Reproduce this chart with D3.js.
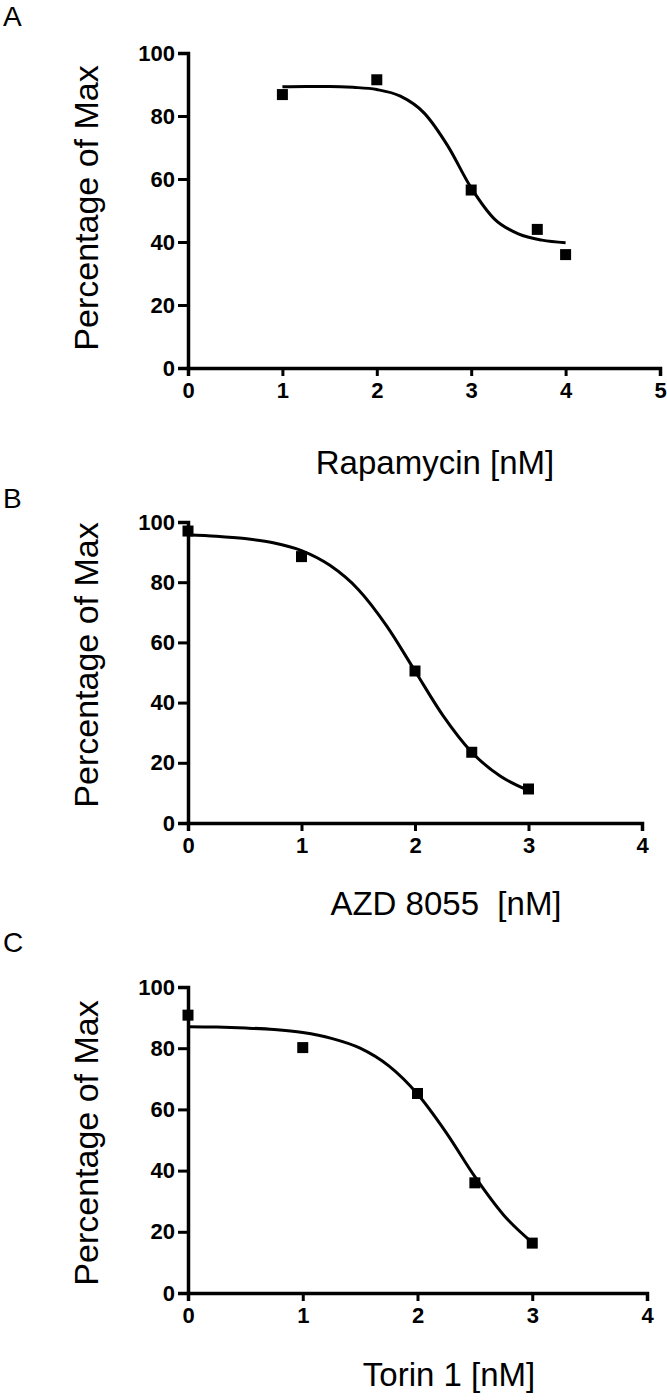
<!DOCTYPE html>
<html>
<head>
<meta charset="utf-8">
<script src="https://cdn.jsdelivr.net/npm/d3@7"></script>
<style>
  body { margin: 0; background: #fff; }
  svg { display: block; }
  text { font-family: "Liberation Sans", Arial, sans-serif; fill: #000; }
  .tick text { font-weight: bold; font-size: 22px; }
</style>
</head>
<body>
<div id="chart"></div>
<script>
const width = 667;
const height = 1400;

// panel A - rapamycin
const rapaX = [1, 2, 3, 3.7, 4];
const rapaY = [86.8, 91.5, 56.5, 44, 36];
const rapaFitX = [1, 1.25, 1.5, 1.75, 2, 2.25, 2.5, 2.75, 3, 3.25, 3.5, 3.75, 4];
const rapaFitY = [89.3, 89.4, 89.4, 89.1, 88.4, 86.3, 81, 70.6, 57.2, 47.2, 42.6, 40.6, 39.8];

// panel B - AZD 8055
const azdX = [0, 1, 2, 2.5, 3];
const azdY = [97, 88.5, 50.5, 23.5, 11.3];
const azdFitX = [0, 0.25, 0.5, 0.75, 1, 1.25, 1.5, 1.75, 2, 2.25, 2.5, 2.75, 3];
const azdFitY = [95.8, 95.3, 94.5, 93.1, 90.5, 85.6, 77.6, 65.5, 50.5, 35.5, 23.5, 15.6, 10.8];

// panel C - Torin 1
const torinX = [0, 1, 2, 2.5, 3];
const torinY = [90.8, 80.2, 65.2, 36, 16.3];
const torinFitX = [0, 0.25, 0.5, 0.75, 1, 1.25, 1.5, 1.75, 2, 2.25, 2.5, 2.75, 3];
const torinFitY = [87, 86.9, 86.6, 86.1, 85.1, 83.2, 80, 74.2, 65, 52.4, 38, 25.5, 16.5];

const yTicks = [0, 20, 40, 60, 80, 100];
const panelLetters = ['A', 'B', 'C'];
const xTitles = ['Rapamycin [nM]', 'AZD 8055  [nM]', 'Torin 1 [nM]'];
const yTitle = 'Percentage of Max';

const svg = d3
  .select('#chart')
  .append('svg')
  .attr('width', width)
  .attr('height', height);

const panels = [
  { letter: 0, xs: rapaX, ys: rapaY, fx: rapaFitX, fy: rapaFitY, xMax: 5,
    xRange: [188, 660], yRange: [368, 53], letterY: 26, titleX: 435, titleY: 474, yTitleY: 208 },
  { letter: 1, xs: azdX, ys: azdY, fx: azdFitX, fy: azdFitY, xMax: 4,
    xRange: [188, 642], yRange: [823, 522], letterY: 508, titleX: 446, titleY: 915, yTitleY: 665 },
  { letter: 2, xs: torinX, ys: torinY, fx: torinFitX, fy: torinFitY, xMax: 4,
    xRange: [188, 647], yRange: [1293, 987], letterY: 952, titleX: 449, titleY: 1386, yTitleY: 1143 },
];

panels.forEach(drawPanel);

function drawPanel(p) {
  const x = d3.scaleLinear().domain([0, p.xMax]).range(p.xRange);
  const y = d3.scaleLinear().domain([0, 100]).range(p.yRange);
  const g = svg.append('g');

  g.append('text')
    .attr('x', 3)
    .attr('y', p.letterY)
    .attr('font-size', 28)
    .text(panelLetters[p.letter]);

  // axes
  const xAxis = g
    .append('g')
    .attr('transform', `translate(0,${p.yRange[0]})`)
    .call(
      d3.axisBottom(x)
        .ticks(p.xMax)
        .tickSizeOuter(0)
        .tickSize(8)
        .tickPadding(6)
        .tickFormat(d3.format('d'))
    );
  const yAxis = g
    .append('g')
    .attr('transform', `translate(${p.xRange[0]},0)`)
    .call(
      d3.axisLeft(y)
        .tickValues(yTicks)
        .tickSizeOuter(0)
        .tickSize(10)
        .tickPadding(3)
    );
  [xAxis, yAxis].forEach((a) => {
    a.select('.domain').attr('stroke', '#000').attr('stroke-width', 3.5);
    a.selectAll('.tick line').attr('stroke', '#000').attr('stroke-width', 3);
  });

  // fitted curve
  const line = d3
    .line()
    .x((d, i) => x(p.fx[i]))
    .y((d) => y(d))
    .curve(d3.curveMonotoneX);
  g.append('path')
    .datum(p.fy)
    .attr('d', line)
    .attr('fill', 'none')
    .attr('stroke', '#000')
    .attr('stroke-width', 3);

  // data points
  const s = 11;
  g.selectAll('rect.pt')
    .data(p.ys)
    .join('rect')
    .attr('class', 'pt')
    .attr('x', (d, i) => x(p.xs[i]) - s / 2)
    .attr('y', (d) => y(d) - s / 2)
    .attr('width', s)
    .attr('height', s)
    .attr('fill', '#000');

  // titles
  g.append('text')
    .attr('x', p.titleX)
    .attr('y', p.titleY)
    .attr('text-anchor', 'middle')
    .attr('font-size', 33)
    .style('white-space', 'pre')
    .text(xTitles[p.letter]);

  g.append('text')
    .attr('transform', `translate(98,${p.yTitleY}) rotate(-90)`)
    .attr('text-anchor', 'middle')
    .attr('font-size', 34)
    .text(yTitle);
}
</script>
</body>
</html>
